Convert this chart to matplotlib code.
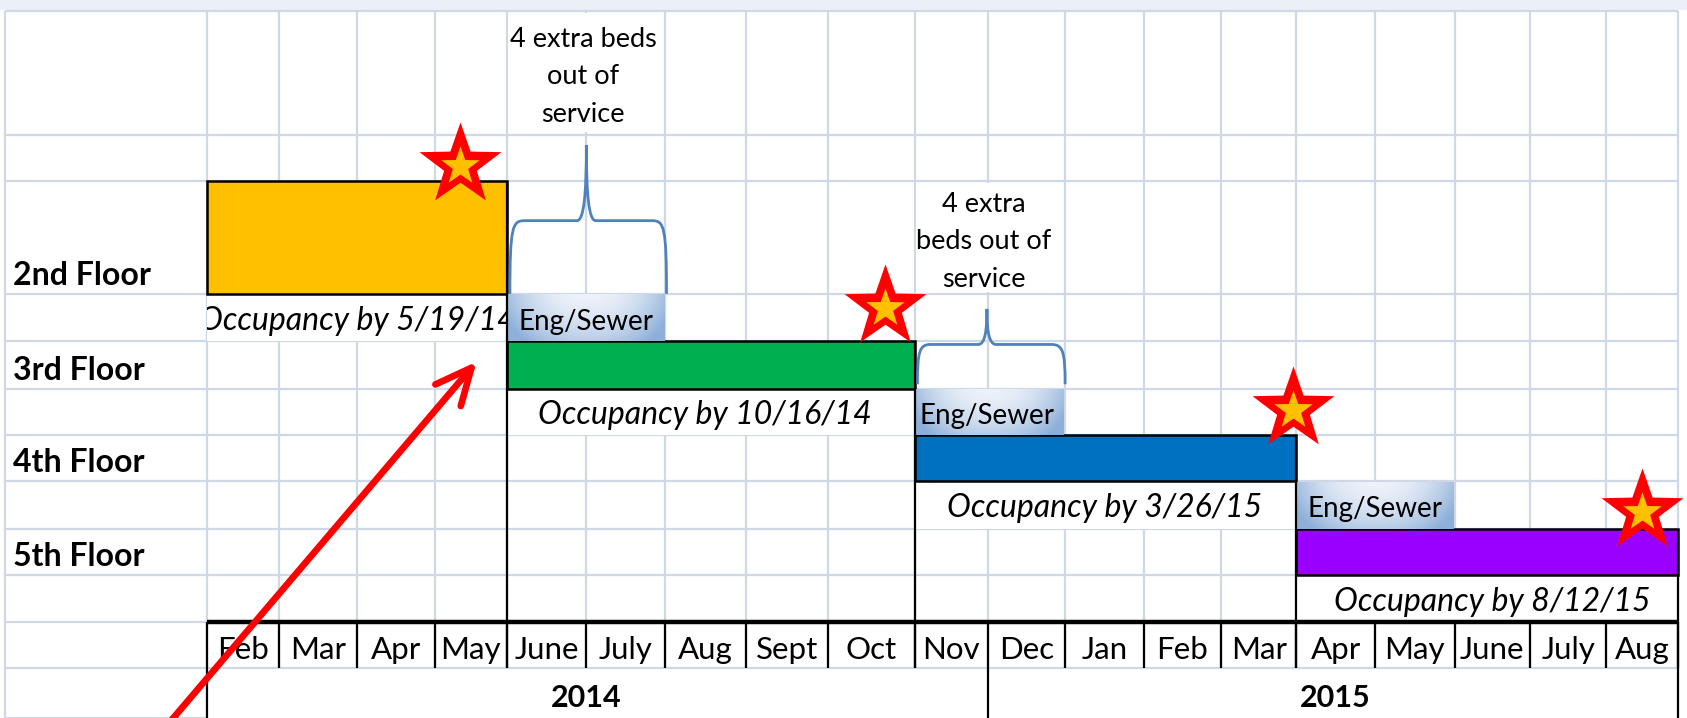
import numpy as np
import matplotlib.pyplot as plt
from matplotlib.patches import Rectangle, PathPatch
from matplotlib.path import Path

plt.rcParams['font.family'] = ['Lato', 'DejaVu Sans']

# values (x in month columns, Feb 2014 = 0)
months = ['Feb', 'Mar', 'Apr', 'May', 'June', 'July', 'Aug', 'Sept', 'Oct',
          'Nov', 'Dec', 'Jan', 'Feb', 'Mar', 'Apr', 'May', 'June', 'July', 'Aug']
years = ['2014', '2015']
year_edges = [0, 10, 19]

floors = ['2nd Floor', '3rd Floor', '4th Floor', '5th Floor']
work_start = [0, 4, 9, 14]
work_end = [4, 9, 14, 19]
occupancy = ['5/19/14', '10/16/14', '3/26/15', '8/12/15']
star_month = [3.35, 8.66, 13.96, 18.5]

eng_start = [4, 9, 14]
eng_end = [6, 10.98, 16]
notes = ['4 extra beds\nout of\nservice', '4 extra\nbeds out of\nservice']

# sheet layout (pixels of the screenshot): excel column edges and row heights
col_px = [192, 259, 332, 404, 471, 545, 618, 693, 770, 850, 918, 990,
          1063, 1135, 1205, 1278, 1352, 1422, 1493, 1560]
W, H = 1568, 667
row_h = [115, 43, 105, 44, 44, 43, 43, 44, 43, 44, 43, 46]
edges = 10 + np.concatenate([[0], np.cumsum(row_h)])
floor_row = [2, 4, 6, 8]
month_row, year_row = 10, 11
note_row = [0, 2]
star_y = [153, 285, 380, 475]
brace_low = [273, 357]
brace_flat = [205, 320]
brace_tip = [135, 287]

bar_colors = ['#FFC000', '#00B050', '#0070C0', '#9900FF']
grid_c = '#D0D8E6'
brace_c = '#4F81BD'

ext_idx = np.r_[-3, np.arange(len(col_px)), len(col_px) + 2]
ext_px = np.r_[col_px[0] - 3 * 67, col_px, col_px[-1] + 3 * 67]


def forward(m):
    return np.interp(m, ext_idx, ext_px)


def inverse(px):
    return np.interp(px, ext_px, ext_idx)


xm = inverse

fig = plt.figure(figsize=(16.87, 7.18), dpi=100)
ax = fig.add_axes([0, 0, 1, 1])
ax.set_xscale('function', functions=(forward, inverse))
ax.axis('off')

# top ribbon remnant
ax.add_patch(Rectangle((xm(0), 0), xm(W) - xm(0), 9, color='#ECF0F6', lw=0, zorder=0))

# sheet gridlines
ax.vlines(range(len(months) + 1), edges[0], edges[year_row], color=grid_c, lw=1.6, zorder=1)
ax.vlines([xm(5)], edges[0], edges[-1], color=grid_c, lw=1.6, zorder=1)
ax.hlines(edges, xm(5), len(months), color=grid_c, lw=1.6, zorder=1)

# merged cells (white, hide gridlines)
occ_cells = []
for i in range(len(floors)):
    r = floor_row[i] + 1
    cell = Rectangle((work_start[i], edges[r]), work_end[i] - work_start[i],
                     edges[r + 1] - edges[r], facecolor='white', lw=0, zorder=2)
    ax.add_patch(cell)
    occ_cells.append(cell)
for i, r in enumerate(note_row):
    ax.add_patch(Rectangle((eng_start[i] + 0.02, edges[r] + 2), eng_end[i] - eng_start[i] - 0.04,
                           edges[r + 1] - edges[r] - 4, facecolor='white', lw=0, zorder=2))
ax.add_patch(Rectangle((0, edges[year_row] + 1), len(months), edges[-1] - edges[year_row],
                       facecolor='white', lw=0, zorder=2))

# floor bars
for i in range(len(floors)):
    r = floor_row[i]
    ax.add_patch(Rectangle((work_start[i], edges[r]), work_end[i] - work_start[i],
                           edges[r + 1] - edges[r], facecolor=bar_colors[i],
                           edgecolor='black', lw=1.8, zorder=3))
    ax.text(xm(12), edges[r + 1] - 17, floors[i], fontsize=23, fontweight='bold',
            ha='left', va='center', zorder=5)
    r2 = r + 1
    t = ax.text((work_start[i] + work_end[i]) / 2, (edges[r2] + edges[r2 + 1]) / 2 + 3,
                'Occupancy by ' + occupancy[i], fontsize=23, style='italic',
                ha='center', va='center', zorder=5, clip_on=True)
    t.set_clip_path(occ_cells[i])

# Eng/Sewer boxes with gradient fill
yy, xx = np.mgrid[0:1:60j, 0:1:120j]
t_grad = np.clip(0.75 * np.abs(2 * xx - 1) ** 2.2 + 0.55 * yy ** 1.6, 0, 1)
c0 = np.array([0.93, 0.95, 0.98])
c1 = np.array([0.56, 0.69, 0.85])
grad = c0 + (c1 - c0) * t_grad[..., None]
for i in range(len(eng_start)):
    r = floor_row[i] + 1
    ax.imshow(grad, extent=(eng_start[i], eng_end[i], edges[r + 1], edges[r]),
              origin='upper', aspect='auto', interpolation='bilinear', zorder=6)
    ax.text((eng_start[i] + eng_end[i]) / 2, (edges[r] + edges[r + 1]) / 2 + 4,
            'Eng/Sewer', fontsize=20, ha='center', va='center', zorder=6.5)

# black borders
ax.hlines(edges[month_row], 0, len(months), color='black', lw=3.2, zorder=4)
ax.vlines(range(len(months) + 1), edges[month_row], edges[year_row], color='black', lw=1.6, zorder=4)
ax.vlines(year_edges, edges[year_row], edges[-1], color='black', lw=1.6, zorder=4)
for i in range(len(floors)):
    ax.vlines(work_end[i], edges[floor_row[i]], edges[year_row], color='black', lw=1.6, zorder=6.6)

# month and year labels
for m, name in enumerate(months):
    ax.text(m + 0.5, (edges[month_row] + edges[month_row + 1]) / 2 + 4, name,
            fontsize=22.5, ha='center', va='center', zorder=5)
for k, y in enumerate(years):
    ax.text((year_edges[k] + year_edges[k + 1]) / 2, (edges[year_row] + edges[-1]) / 2 + 4, y,
            fontsize=22, fontweight='bold', ha='center', va='center', zorder=5)

# notes and braces
for i in range(len(notes)):
    r = note_row[i]
    ax.text((eng_start[i] + eng_end[i]) / 2 - 0.04, (edges[r] + edges[r + 1]) / 2 + 4, notes[i],
            fontsize=19.5, ha='center', va='center', multialignment='center',
            linespacing=1.62, zorder=5)
    x0, x1 = eng_start[i] + 0.04, eng_end[i] + 0.02
    xc = (eng_start[i] + eng_end[i]) / 2
    yb, yf, yt = brace_low[i], brace_flat[i], brace_tip[i]
    cw, tw = 0.18, 0.12
    verts = [(x0, yb), (x0, yf + 6), (x0 + 0.03, yf), (x0 + cw, yf),
             (xc - tw, yf),
             (xc - 0.03, yf), (xc, yf - 0.35 * (yf - yt)), (xc, yt),
             (xc, yf - 0.35 * (yf - yt)), (xc + 0.03, yf), (xc + tw, yf),
             (x1 - cw, yf),
             (x1 - 0.03, yf), (x1, yf + 6), (x1, yb)]
    codes = [Path.MOVETO, Path.CURVE4, Path.CURVE4, Path.CURVE4,
             Path.LINETO,
             Path.CURVE4, Path.CURVE4, Path.CURVE4,
             Path.CURVE4, Path.CURVE4, Path.CURVE4,
             Path.LINETO,
             Path.CURVE4, Path.CURVE4, Path.CURVE4]
    ax.add_patch(PathPatch(Path(verts, codes), facecolor='none', edgecolor=brace_c,
                           lw=2, zorder=5))

# stars at the occupancy points
ang = np.pi / 2 + np.arange(10) * np.pi / 5
rad = np.where(np.arange(10) % 2 == 0, 1.0, 0.40)
star_path = Path(np.column_stack([rad * np.cos(ang), rad * np.sin(ang)]), closed=False)
ax.plot(star_month, star_y, ls='none', marker=star_path, ms=62, mfc='#FF0000', mew=0, zorder=7)
ax.plot(star_month, np.array(star_y) + 1, ls='none', marker=star_path, ms=29, mfc='#FFC000',
        mew=0, zorder=7.5)

# red arrow
ax.annotate('', xy=(xm(443), 336), xytext=(xm(150), 680),
            arrowprops=dict(arrowstyle='->,head_length=1.3,head_width=0.6', color='#FF0000',
                            lw=4.8, mutation_scale=20, shrinkA=0, shrinkB=0),
            annotation_clip=False, zorder=8)

ax.set_xlim(xm(0), xm(W))
ax.set_ylim(H, 0)
fig.savefig('out.png', dpi=100)
